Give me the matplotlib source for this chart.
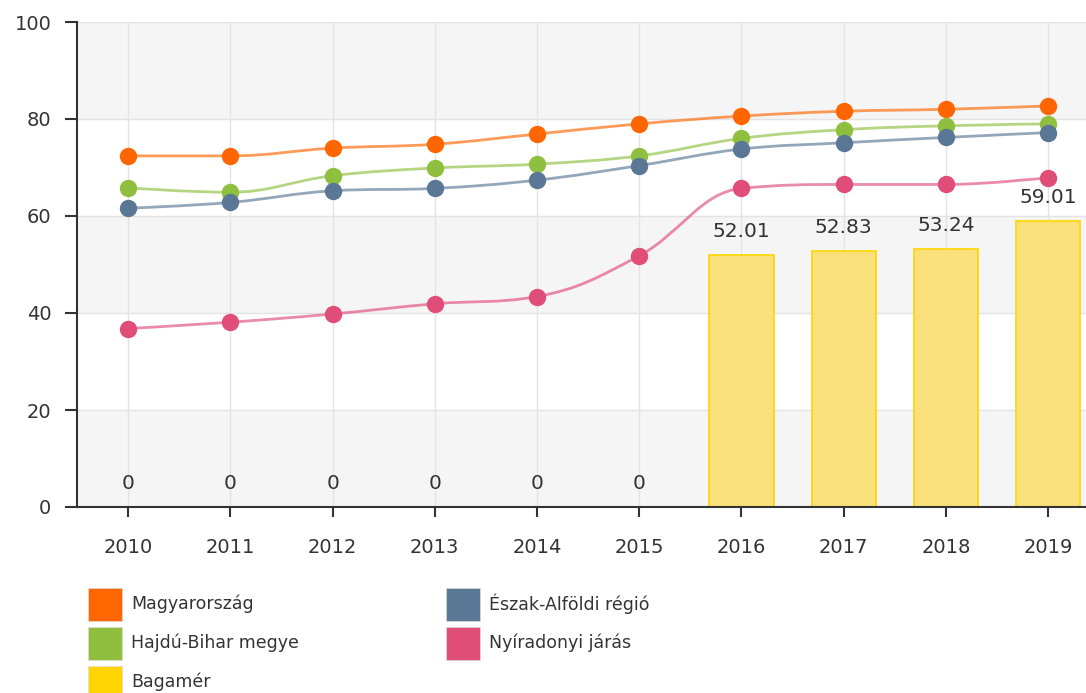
import numpy as np
import matplotlib.pyplot as plt
from matplotlib.path import Path
from matplotlib.patches import PathPatch, Rectangle

years = ['2010', '2011', '2012', '2013', '2014', '2015', '2016', '2017', '2018', '2019']

magyarorszag = [72.4, 72.4, 74.0, 74.8, 76.9, 79.0, 80.6, 81.6, 82.0, 82.7]
hajdu_bihar = [65.8, 64.9, 68.3, 69.9, 70.7, 72.4, 76.0, 77.8, 78.6, 79.0]
eszak_alfold = [61.6, 62.8, 65.2, 65.7, 67.4, 70.4, 73.8, 75.1, 76.2, 77.2]
nyiradonyi = [36.8, 38.1, 39.8, 41.9, 43.4, 51.8, 65.7, 66.5, 66.5, 67.9]
bagamer = [0, 0, 0, 0, 0, 0, 52.01, 52.83, 53.24, 59.01]

c_orange = '#ff6600'
c_green = '#8fbf3f'
c_blue = '#5b7796'
c_pink = '#e04d78'
c_yellow = '#ffd400'


def spline_path(xs, ys, smoothing=1.5):
    # highcharts-like spline: cubic bezier segments between the points
    denom = smoothing + 1
    n = len(xs)
    left = [(xs[i], ys[i]) for i in range(n)]
    right = [(xs[i], ys[i]) for i in range(n)]
    for i in range(1, n - 1):
        lx, ly = xs[i - 1], ys[i - 1]
        nx, ny = xs[i + 1], ys[i + 1]
        px, py = xs[i], ys[i]
        lcx = (smoothing * px + lx) / denom
        lcy = (smoothing * py + ly) / denom
        rcx = (smoothing * px + nx) / denom
        rcy = (smoothing * py + ny) / denom
        if rcx != lcx:
            corr = ((rcy - lcy) * (rcx - px)) / (rcx - lcx) + py - rcy
            lcy += corr
            rcy += corr
        if lcy > ly and lcy > py:
            lcy = max(ly, py)
            rcy = 2 * py - lcy
        elif lcy < ly and lcy < py:
            lcy = min(ly, py)
            rcy = 2 * py - lcy
        if rcy > ny and rcy > py:
            rcy = max(ny, py)
            lcy = 2 * py - rcy
        elif rcy < ny and rcy < py:
            rcy = min(ny, py)
            lcy = 2 * py - rcy
        left[i] = (lcx, lcy)
        right[i] = (rcx, rcy)
    verts = [(xs[0], ys[0])]
    codes = [Path.MOVETO]
    for i in range(1, n):
        verts += [right[i - 1], left[i], (xs[i], ys[i])]
        codes += [Path.CURVE4] * 3
    return Path(verts, codes)


fig = plt.figure(figsize=(10.86, 6.93), dpi=100)
ax = fig.add_axes([77 / 1086, 186 / 693, 1 - 77 / 1086, 485 / 693])

x = np.arange(len(years))
ax.set_xlim(-0.5, 9.37)
ax.set_ylim(0, 100)

# alternating bands
for lo in range(0, 100, 40):
    ax.axhspan(lo, lo + 20, color='#f5f5f5', zorder=0, lw=0)

ax.grid(True, color='#e3e3e3', lw=1)
ax.set_axisbelow(True)

bars = ax.bar(x, bagamer, width=0.63, color='#f9e07a', edgecolor=c_yellow, lw=1.2, zorder=2)
for xi, v in zip(x, bagamer):
    ax.annotate(f'{v:g}' if v == 0 else f'{v:.2f}', (xi, v), xytext=(0, 17),
                textcoords='offset points', ha='center', va='center',
                fontsize=14.5, color='#333333', zorder=5)

for vals, col in [(magyarorszag, c_orange), (hajdu_bihar, c_green),
                  (eszak_alfold, c_blue), (nyiradonyi, c_pink)]:
    p = spline_path(list(x), vals)
    ax.add_patch(PathPatch(p, fill=False, edgecolor=col, lw=2, alpha=0.65, zorder=3))
    ax.plot(x, vals, ls='none', marker='o', ms=11.5, color=col, mec=col, zorder=4)

for s in ['top', 'right']:
    ax.spines[s].set_visible(False)
for s in ['left', 'bottom']:
    ax.spines[s].set_color('#333333')
    ax.spines[s].set_linewidth(1.5)

ax.set_xticks(x)
ax.set_xticklabels(years)
ax.set_yticks([0, 20, 40, 60, 80, 100])
ax.tick_params(axis='both', width=1.5, color='#333333',
               labelsize=14, labelcolor='#333333')
ax.tick_params(axis='x', length=7, pad=15)
ax.tick_params(axis='y', length=8.5, pad=10)

# legend
legend_items = [
    ('Magyarország', c_orange, 88, 604),
    ('Hajdú-Bihar megye', c_green, 88, 643),
    ('Bagamér', c_yellow, 88, 682),
    ('Észak-Alföldi régió', c_blue, 446, 604),
    ('Nyíradonyi járás', c_pink, 446, 643),
]
W, H = 1086, 693
for label, col, px, py in legend_items:
    fig.add_artist(Rectangle((px / W, (H - py - 16.5) / H), 34 / W, 33 / H,
                             transform=fig.transFigure, facecolor=col,
                             edgecolor='#dddddd', lw=0.5))
    fig.text((px + 43) / W, (H - py) / H, label, fontsize=12.5,
             color='#333333', va='center', ha='left')

fig.savefig('out.png', dpi=100)
